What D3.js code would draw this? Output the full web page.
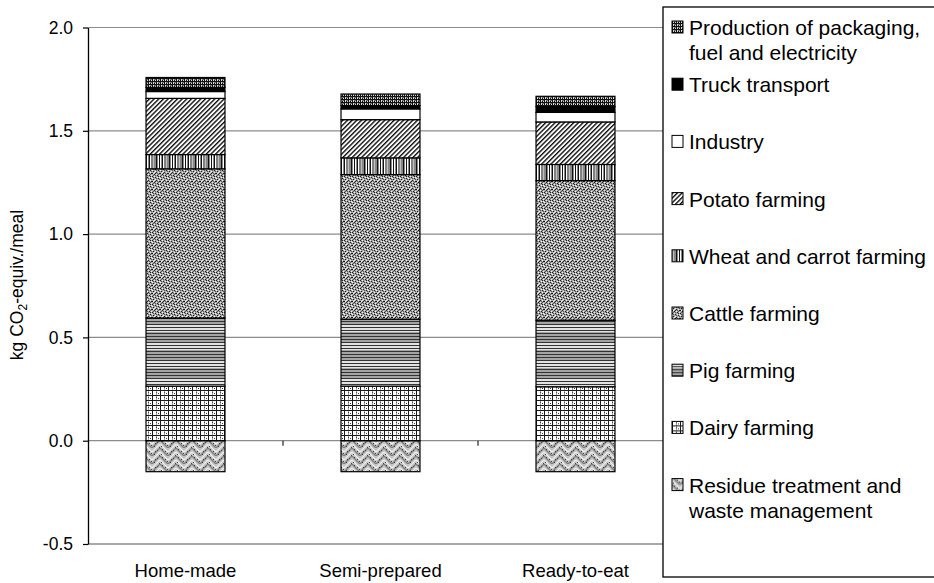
<!DOCTYPE html>
<html>
<head>
<meta charset="utf-8">
<script src="https://cdn.jsdelivr.net/npm/d3@7"></script>
<style>
  body { margin: 0; background: #fff; }
  svg { display: block; font-family: "Liberation Sans", Arial, Helvetica, sans-serif; }
</style>
</head>
<body>
<svg id="chart" width="934" height="583"></svg>
<script>
// Meal types on the category axis
const categories = ["Home-made", "Semi-prepared", "Ready-to-eat"];

// Emission contributions, kg CO2-equiv. per meal
const residueTreatment = [-0.150, -0.150, -0.150];
const dairyFarming     = [0.264, 0.264, 0.261];
const pigFarming       = [0.330, 0.324, 0.322];
const cattleFarming    = [0.722, 0.700, 0.676];
const wheatCarrot      = [0.069, 0.081, 0.078];
const potatoFarming    = [0.272, 0.185, 0.206];
const industry         = [0.033, 0.052, 0.046];
const truckTransport   = [0.020, 0.016, 0.028];
const packagingFuel    = [0.048, 0.056, 0.050];

const yTicks = [-0.5, 0.0, 0.5, 1.0, 1.5, 2.0];

// Series in stacking order (bottom to top), legend lists them top to bottom
const series = [
  { key: "residue",   values: residueTreatment, fill: "pat-residue",   label: ["Residue treatment and", "waste management"] },
  { key: "dairy",     values: dairyFarming,     fill: "pat-dairy",     label: ["Dairy farming"] },
  { key: "pig",       values: pigFarming,       fill: "pat-pig",       label: ["Pig farming"] },
  { key: "cattle",    values: cattleFarming,    fill: "pat-cattle",    label: ["Cattle farming"] },
  { key: "wheat",     values: wheatCarrot,      fill: "pat-wheat",     label: ["Wheat and carrot farming"] },
  { key: "potato",    values: potatoFarming,    fill: "pat-potato",    label: ["Potato farming"] },
  { key: "industry",  values: industry,         fill: "#ffffff",       label: ["Industry"] },
  { key: "truck",     values: truckTransport,   fill: "#000000",       label: ["Truck transport"] },
  { key: "packaging", values: packagingFuel,    fill: "pat-packaging", label: ["Production of packaging,", "fuel and electricity"] }
];

const svg = d3.select("#chart");
const defs = svg.append("defs");

// ---------- fill patterns ----------
function pattern(id, w, h, transform) {
  const p = defs.append("pattern").attr("id", id)
    .attr("patternUnits", "userSpaceOnUse").attr("width", w).attr("height", h);
  if (transform) p.attr("patternTransform", transform);
  return p;
}
function px(p, list, color) {
  list.forEach(([x, y, w = 1, h = 1]) =>
    p.append("rect").attr("x", x).attr("y", y).attr("width", w).attr("height", h).attr("fill", color));
}

// packaging: dense dark check
{
  const p = pattern("pat-packaging", 4, 3);
  px(p, [[0, 0, 4, 3]], "#d8d8d8");
  px(p, [[0, 0, 1, 3], [0, 0, 4, 1], [2, 2, 1, 1]], "#111");
  px(p, [[2, 1, 2, 1]], "#707070");
}
// potato: diagonal hatch
{
  const p = pattern("pat-potato", 3.3, 6, "rotate(45)");
  px(p, [[0, 0, 3.3, 6]], "#ffffff");
  px(p, [[0, 0, 1.4, 6]], "#111");
}
// wheat and carrot: irregular vertical stripes
{
  const p = pattern("pat-wheat", 13, 4);
  px(p, [[0, 0, 13, 4]], "#ffffff");
  px(p, [[0, 0, 1.5, 4], [3, 0, 1, 4], [5.5, 0, 1.5, 4], [11.5, 0, 1, 4]], "#111");
  px(p, [[8, 0, 2.5, 4]], "#808080");
}
// cattle: gray speckle
{
  const p = pattern("pat-cattle", 8, 8);
  px(p, [[0, 0, 8, 8]], "#a6a6a6");
  px(p, [[0, 0], [3, 1], [6, 2], [1, 3], [4, 4], [7, 5], [2, 6], [5, 7], [6, 0], [0, 5], [3, 5]], "#1e1e1e");
  px(p, [[2, 0], [5, 1], [0, 2], [3, 3], [6, 4], [1, 5], [4, 6], [7, 7], [7, 1], [2, 4]], "#f2f2f2");
  px(p, [[1, 1], [4, 2], [7, 3], [5, 5], [3, 7], [6, 6], [1, 7]], "#5e5e5e");
}
// pig: horizontal lines with gray bands
{
  const p = pattern("pat-pig", 4, 18);
  px(p, [[0, 0, 4, 18]], "#e2e2e2");
  px(p, [[0, 8, 4, 10]], "#a4a4a4");
  px(p, [[0, 0, 4, 1], [0, 3, 4, 1], [0, 6, 4, 1], [0, 9, 4, 1], [0, 12, 4, 1], [0, 15, 4, 1]], "#333");
}
// dairy: grid with dotted inner lines
{
  const p = pattern("pat-dairy", 8, 5);
  px(p, [[0, 0, 8, 5]], "#ffffff");
  px(p, [[4, 0, 1, 5]], "#a0a0a0");
  px(p, [[0, 0, 1, 5], [0, 0, 8, 1]], "#1a1a1a");
  px(p, [[4, 2], [6, 3]], "#444");
}
// residue: gray zigzag weave
{
  const p = pattern("pat-residue", 16, 8);
  px(p, [[0, 0, 16, 8]], "#c4c4c4");
  p.append("path").attr("d", "M0,0 L8,8 L16,0").attr("fill", "none").attr("stroke", "#7e7e7e").attr("stroke-width", 1.4);
  p.append("path").attr("d", "M0,4 L4,8 M12,8 L16,4 M4,0 L8,4 L12,0").attr("fill", "none").attr("stroke", "#efefef").attr("stroke-width", 1.2);
  px(p, [[2, 1], [13, 2], [7, 5], [10, 6], [5, 3], [15, 7], [1, 6], [11, 3]], "#4a4a4a");
}

const fillOf = f => f.startsWith("pat-") ? `url(#${f})` : f;

// ---------- scales ----------
const margin = { left: 88, right: 673, top: 27.5, bottom: 544 };
const x = d3.scaleBand().domain(categories).range([margin.left, margin.right])
  .paddingInner(0.595).paddingOuter(0.2975);
const y = d3.scaleLinear().domain([-0.5, 2.0]).range([margin.bottom, margin.top]);

// ---------- gridlines ----------
svg.append("g").selectAll("line").data(yTicks).join("line")
  .attr("x1", margin.left).attr("x2", margin.right)
  .attr("y1", d => y(d)).attr("y2", d => y(d))
  .attr("stroke", d => d === -0.5 ? "#555" : "#8c8c8c").attr("stroke-width", 1.2);

// ---------- stacked bars ----------
const rows = categories.map((c, i) => {
  const r = { category: c };
  series.forEach(s => r[s.key] = s.values[i]);
  return r;
});
const stacked = d3.stack().keys(series.map(s => s.key)).offset(d3.stackOffsetDiverging)(rows);

const barG = svg.append("g");
stacked.forEach((layer, li) => {
  barG.append("g").selectAll("rect").data(layer).join("rect")
    .attr("x", d => x(d.data.category))
    .attr("width", x.bandwidth())
    .attr("y", d => y(Math.max(d[0], d[1])))
    .attr("height", d => Math.abs(y(d[0]) - y(d[1])))
    .attr("fill", fillOf(series[li].fill))
    .attr("stroke", "#000").attr("stroke-width", 1.2);
});

// ---------- axes ----------
const yAxis = svg.append("g").attr("transform", `translate(${margin.left},0)`)
  .call(d3.axisLeft(y).tickValues(yTicks).tickFormat(d => d.toFixed(1)).tickSize(5).tickSizeOuter(0));
yAxis.select(".domain").attr("stroke", "#000").attr("stroke-width", 1.3);
yAxis.selectAll(".tick line").attr("stroke", "#000").attr("stroke-width", 1.2);
yAxis.selectAll(".tick text").attr("font-size", 17.5).attr("fill", "#000")
  .attr("font-family", "'Liberation Sans', Arial, sans-serif").attr("dx", "-7");

// small ticks between categories on the zero line
const bounds = categories.slice(1).map(c => x(c) - x.step() * x.paddingInner() / 2);
svg.append("g").selectAll("line").data(bounds).join("line")
  .attr("x1", d => d).attr("x2", d => d)
  .attr("y1", y(0)).attr("y2", y(0) + 5)
  .attr("stroke", "#222").attr("stroke-width", 1.2);

// category labels
svg.append("g").selectAll("text").data(categories).join("text")
  .attr("x", d => x(d) + x.bandwidth() / 2)
  .attr("y", 577)
  .attr("text-anchor", "middle").attr("font-size", 18.5).attr("fill", "#000")
  .text(d => d);

// y-axis title
const yTitle = svg.append("text")
  .attr("transform", "translate(23,285) rotate(-90)")
  .attr("text-anchor", "middle").attr("font-size", 17.5).attr("fill", "#000");
yTitle.append("tspan").text("kg CO");
yTitle.append("tspan").attr("font-size", 12).attr("dy", 4).text("2");
yTitle.append("tspan").attr("dy", -4).text("-equiv./meal");

// ---------- legend ----------
const legend = svg.append("g");
legend.append("rect").attr("x", 663).attr("y", 7).attr("width", 300).attr("height", 570)
  .attr("fill", "#fff").attr("stroke", "#000").attr("stroke-width", 1.3);

const legendItems = series.slice().reverse();
const item = legend.selectAll("g.item").data(legendItems).join("g").attr("class", "item")
  .attr("transform", (d, i) => `translate(0,${35 + i * 57.2})`);
item.append("rect").attr("x", 672).attr("y", -14).attr("width", 11).attr("height", 12)
  .attr("fill", d => fillOf(d.fill)).attr("stroke", "#000").attr("stroke-width", 1);
item.each(function(d) {
  const t = d3.select(this).append("text").attr("x", 689).attr("y", 0)
    .attr("font-size", 21).attr("fill", "#000");
  d.label.forEach((line, k) => t.append("tspan").attr("x", 689).attr("dy", k === 0 ? 0 : 25).text(line));
});
</script>
</body>
</html>
